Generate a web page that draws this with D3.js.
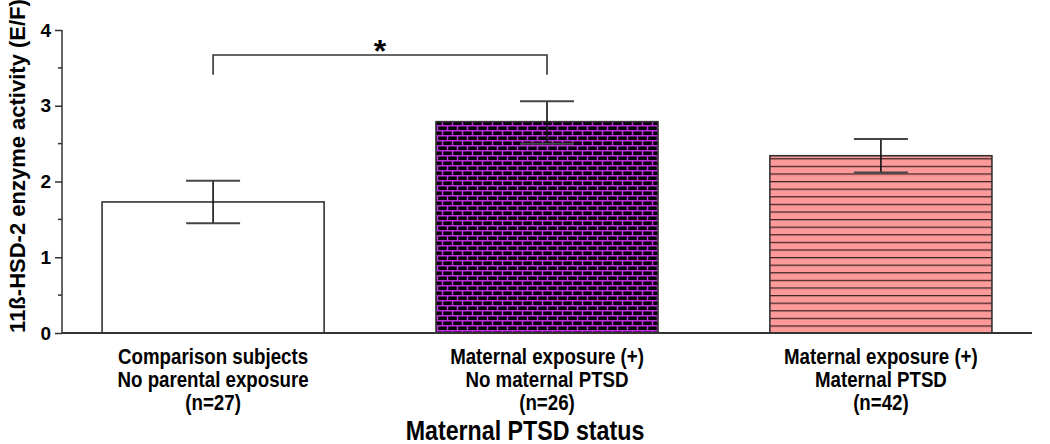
<!DOCTYPE html>
<html>
<head>
<meta charset="utf-8">
<script src="https://cdn.jsdelivr.net/npm/d3@7"></script>
<style>
  body { margin: 0; background: #fff; }
  text { font-family: "Liberation Sans", Arial, sans-serif; font-weight: bold; fill: #000; }
</style>
</head>
<body>
<svg id="chart"></svg>
<script>
var groups = ["comparison", "exposureNoPtsd", "exposurePtsd"];
var groupLabels = [
  ["Comparison subjects", "No parental exposure", "(n=27)"],
  ["Maternal exposure (+)", "No maternal PTSD", "(n=26)"],
  ["Maternal exposure (+)", "Maternal PTSD", "(n=42)"]
];
var means = [1.73, 2.79, 2.34];
var errLow = [1.45, 2.50, 2.12];
var errHigh = [2.01, 3.06, 2.56];
var yTicks = [0, 1, 2, 3, 4];
var yMinorTicks = [0.5, 1.5, 2.5, 3.5];

var width = { svg: 1050 };
var height = { svg: 444 };

var svg = d3.select("svg").attr("width", width.svg).attr("height", height.svg);

var defs = svg.append("defs");

// brick pattern for the middle bar
var brick = defs.append("pattern")
  .attr("id", "brick")
  .attr("patternUnits", "userSpaceOnUse")
  .attr("width", 10)
  .attr("height", 10);
brick.append("rect").attr("width", 10).attr("height", 10).attr("fill", "#000");
brick.append("path")
  .attr("d", "M0,0.7H10M0,5.7H10M2.5,0V5M7.5,5V10")
  .attr("stroke", "#c030e0")
  .attr("stroke-width", 1.5)
  .attr("fill", "none");

// horizontal lines for the right bar
var lines = defs.append("pattern")
  .attr("id", "hlines")
  .attr("patternUnits", "userSpaceOnUse")
  .attr("width", 10)
  .attr("height", 7.6)
  .attr("y", 333);
lines.append("rect").attr("width", 10).attr("height", 7.6).attr("fill", "#ff9a9a");
lines.append("line")
  .attr("x1", 0).attr("x2", 10).attr("y1", 0.6).attr("y2", 0.6)
  .attr("stroke", "#3a2222").attr("stroke-width", 1.3);

var fills = ["#fff", "url(#brick)", "url(#hlines)"];

var y = d3.scaleLinear().domain([0, 4]).range([333, 30]);

var x = d3.scaleBand()
  .domain(groups)
  .range([62, 1032])
  .paddingInner(0.335)
  .paddingOuter(0.12);

// bars
svg.selectAll("rect.bar")
  .data(groups)
  .enter()
  .append("rect")
  .attr("class", "bar")
  .attr("x", (d) => x(d))
  .attr("y", (d, i) => y(means[i]))
  .attr("width", x.bandwidth())
  .attr("height", (d, i) => y(0) - y(means[i]))
  .attr("fill", (d, i) => fills[i])
  .attr("stroke", "#333")
  .attr("stroke-width", 1.6);

// error bars
var capHalf = 27;
groups.forEach((g, i) => {
  var cx = x(g) + x.bandwidth() / 2;
  var e = svg.append("g");
  e.append("line")
    .attr("x1", cx).attr("x2", cx)
    .attr("y1", y(errLow[i])).attr("y2", y(errHigh[i]))
    .attr("stroke", "#111").attr("stroke-width", 1.6);
  [errLow[i], errHigh[i]].forEach((v) => {
    e.append("line")
      .attr("x1", cx - capHalf).attr("x2", cx + capHalf)
      .attr("y1", y(v)).attr("y2", y(v))
      .attr("stroke", "#444").attr("stroke-width", 2);
  });
});

// y axis
var yAxis = svg.append("g").attr("transform", "translate(62,0)");
yAxis.call(d3.axisLeft(y).tickValues(yTicks).tickSize(7).tickFormat(d3.format("d")));
yAxis.selectAll("text").attr("font-size", 19).attr("dx", -1);
yAxis.selectAll("line, path").attr("stroke", "#333").attr("stroke-width", 1.5);
yAxis.select(".domain").attr("d", "M0," + y(4) + "V" + y(0));
yAxis.selectAll("line.minor")
  .data(yMinorTicks)
  .enter()
  .append("line")
  .attr("class", "minor")
  .attr("x1", -4).attr("x2", 0)
  .attr("y1", (d) => y(d)).attr("y2", (d) => y(d))
  .attr("stroke", "#333").attr("stroke-width", 1.5);

// x axis baseline
svg.append("line")
  .attr("x1", 62).attr("x2", 1032)
  .attr("y1", y(0)).attr("y2", y(0))
  .attr("stroke", "#333").attr("stroke-width", 2);

// category labels (condensed look)
groups.forEach((g, i) => {
  var cx = x(g) + x.bandwidth() / 2;
  var t = svg.append("text")
    .attr("transform", `translate(${cx},364) scale(0.85,1)`)
    .attr("text-anchor", "middle")
    .attr("font-size", 22);
  groupLabels[i].forEach((line, k) => {
    t.append("tspan")
      .attr("x", 0)
      .attr("dy", k === 0 ? 0 : 23)
      .text(line);
  });
});

// axis titles
svg.append("text")
  .attr("transform", "translate(525,440) scale(0.86,1)")
  .attr("text-anchor", "middle")
  .attr("font-size", 27)
  .text("Maternal PTSD status");

svg.append("text")
  .attr("transform", "translate(25,166) rotate(-90)")
  .attr("text-anchor", "middle")
  .attr("font-size", 22)
  .text("11ß-HSD-2 enzyme activity (E/F)");

// significance bracket between first two groups
var c0 = x(groups[0]) + x.bandwidth() / 2;
var c1 = x(groups[1]) + x.bandwidth() / 2;
svg.append("path")
  .attr("d", `M${c0},${y(3.41)}V${y(3.67)}H${c1}V${y(3.41)}`)
  .attr("fill", "none")
  .attr("stroke", "#333")
  .attr("stroke-width", 1.6);
svg.append("text")
  .attr("x", (c0 + c1) / 2)
  .attr("y", 62)
  .attr("text-anchor", "middle")
  .attr("font-size", 32)
  .text("*");
</script>
</body>
</html>
